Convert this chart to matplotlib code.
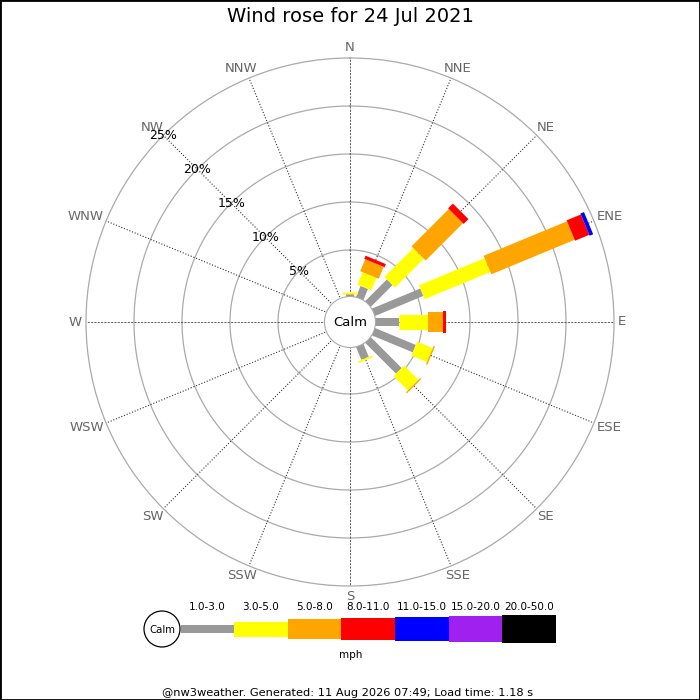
import numpy as np
import matplotlib
matplotlib.use('Agg')
import matplotlib.pyplot as plt
from matplotlib.patches import Rectangle, Circle

# DATA (percent of time, per speed bin, per direction)
directions = ['N', 'NNE', 'NE', 'ENE', 'E', 'ESE', 'SE', 'SSE',
              'S', 'SSW', 'SW', 'WSW', 'W', 'WNW', 'NW', 'NNW']
speed_bins = ['1.0-3.0', '3.0-5.0', '5.0-8.0', '8.0-11.0',
              '11.0-15.0', '15.0-20.0', '20.0-50.0']
bin_colors = ['#999999', '#ffff00', '#ffa500', '#ff0000',
              '#0000ff', '#a020f0', '#000000']
pct_1_3 = [0.45, 1.4, 3.35, 5.6, 2.6, 4.75, 4.7, 1.6, 0, 0, 0, 0, 0, 0, 0, 0]
pct_3_5 = [0.2, 1.4, 4.25, 7.4, 3.0, 1.75, 2.1, 0.2, 0, 0, 0, 0, 0, 0, 0, 0]
pct_5_8 = [0, 1.35, 5.5, 9.4, 1.6, 0.15, 0.15, 0, 0, 0, 0, 0, 0, 0, 0, 0]
pct_8_11 = [0, 0.35, 0.7, 1.6, 0.25, 0, 0, 0, 0, 0, 0, 0, 0, 0, 0, 0]
pct_11_15 = [0, 0, 0, 0.4, 0, 0, 0, 0, 0, 0, 0, 0, 0, 0, 0, 0]
pct_15_20 = [0] * 16
pct_20_50 = [0] * 16
ring_pcts = [5, 10, 15, 20, 25]
title = 'Wind rose for 24 Jul 2021'
footer = '@nw3weather. Generated: 11 Aug 2026 07:49; Load time: 1.18 s'

series = [pct_1_3, pct_3_5, pct_5_8, pct_8_11, pct_11_15, pct_15_20, pct_20_50]
bar_px = [8, 15, 20, 22, 24, 26, 28]  # bar thickness in pixels

RMAX = 25
HOLE = 2.5  # calm circle radius in % units

fig = plt.figure(figsize=(7, 7), dpi=100)
ax = fig.add_axes([86 / 700, 114 / 700, 528 / 700, 528 / 700], projection='polar')
ax.set_theta_zero_location('N')
ax.set_theta_direction(-1)
ax.set_ylim(0, RMAX)
ax.set_rorigin(-HOLE)
ax.grid(False)
ax.set_xticks([])
ax.set_yticks([])
ax.spines['polar'].set_color('#aaaaaa')
ax.spines['polar'].set_linewidth(0.9)
ax.spines['inner'].set_visible(False)

full = np.linspace(0, 2 * np.pi, 721)
for r in ring_pcts[:-1]:
    ax.plot(full, np.full_like(full, r), color='#aaaaaa', lw=0.9, zorder=1)

thetas = np.deg2rad(np.arange(16) * 22.5)
for i, th in enumerate(thetas):
    if i % 4 == 0:
        ax.plot([th, th], [0, RMAX], color='#444444', lw=0.6,
                ls=(0, (2.5, 1.5)), zorder=1)
    else:
        ax.plot([th, th], [0, RMAX], color='#333333', lw=0.8,
                ls=(0, (1, 1.6)), zorder=1)

# bars
base = np.zeros(16)
for vals, col, w in zip(series, bin_colors, bar_px):
    vals = np.array(vals, dtype=float)
    for th, b, v in zip(thetas, base, vals):
        if v > 0:
            ax.plot([th, th], [b, b + v], color=col, lw=w * 0.72,
                    solid_capstyle='butt', zorder=3)
    base = base + vals

# percent labels on NW spoke
for r in ring_pcts:
    ax.text(np.deg2rad(315), r, f'{r}%', ha='center', va='center',
            fontsize=9, zorder=4)

# direction labels
renderer = fig.canvas.get_renderer()
r_lab = (268 - 24) / 9.6
for name, th in zip(directions, thetas):
    ann = ax.annotate(name, xy=(th, r_lab), xytext=(0, 0),
                      textcoords='offset pixels', ha='center', va='center',
                      fontsize=9.5, color='#666666', annotation_clip=False)
    bb = ann.get_window_extent(renderer)
    ann.xyann = (np.sin(th) * bb.width / 2, np.cos(th) * bb.height / 2)

# overlay in pixel coordinates for title, calm circle, legend and footer
ov = fig.add_axes([0, 0, 1, 1], facecolor='none')
ov.set_xlim(0, 700)
ov.set_ylim(700, 0)
ov.axis('off')

ov.add_patch(Circle((350, 322), 25.5, facecolor='white', edgecolor='#aaaaaa', lw=0.8))
ov.text(350, 322, 'Calm', ha='center', va='center', fontsize=9.5)

ov.text(350, 17, title, ha='center', va='center', fontsize=14)

ov.add_patch(Circle((162, 629), 18, facecolor='white', edgecolor='black', lw=0.9))
ov.text(162, 630, 'Calm', ha='center', va='center', fontsize=7.3)
x0 = 180.5
seg = 53.65
for k, (lab, col, w) in enumerate(zip(speed_bins, bin_colors, bar_px)):
    xs = x0 + k * seg
    ov.add_patch(Rectangle((xs, 629 - w / 2), seg, w, facecolor=col,
                           edgecolor='none'))
    ov.text(xs + seg / 2, 607.5, lab, ha='center', va='center', fontsize=7.5)
ov.text(351, 654.5, 'mph', ha='center', va='center', fontsize=7.5)
ov.text(348, 693, footer, ha='center', va='center', fontsize=8.2)

fig.patches.append(Rectangle((0, 0), 1, 1, transform=fig.transFigure,
                             fill=False, edgecolor='black', lw=2))

fig.savefig('out.png', dpi=100)
